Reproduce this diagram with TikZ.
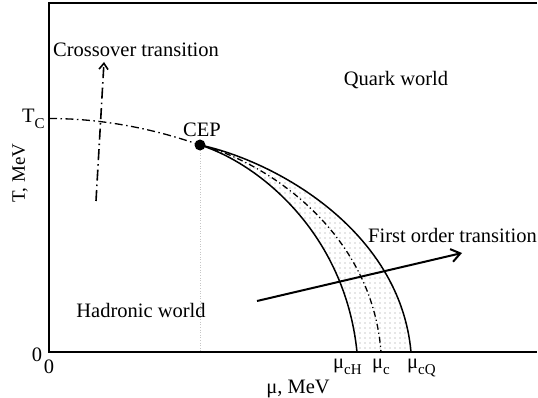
\documentclass[tikz,border=0pt]{standalone}
\usepackage{fontspec}
\setmainfont{Liberation Serif}
\usetikzlibrary{arrows.meta,patterns.meta}
\newcommand\sbs[1]{\raisebox{-6pt}{\fontsize{15}{15}\selectfont #1}}
\begin{document}
\begin{tikzpicture}[x=1pt,y=-1pt,
  font=\fontsize{20.5}{24}\selectfont,
  lbl/.style={inner sep=0pt},
  frame/.style={line width=1.5pt},
  bline/.style={line width=1.5pt},
  tcline/.style={line width=1.3pt, dash pattern=on 8pt off 3.5pt on 1.5pt off 3.5pt},
  midline/.style={line width=1.3pt, dash pattern=on 6pt off 3pt on 1.2pt off 3pt},
  crossline/.style={line width=1.6pt, dash pattern=on 11pt off 4pt on 1.5pt off 4pt, -{Straight Barb[length=6pt,width=9pt]}},
  foarrow/.style={line width=2pt, -{Straight Barb[length=9pt,width=13pt]}},
  faint/.style={gray!45, dotted, line width=0.6pt}]
\useasboundingbox (0,0) rectangle (538,398);
% coordinates
\coordinate (tl) at (49,3);
\coordinate (tr) at (537,3);
\coordinate (o) at (49,352);
\coordinate (br) at (537,352);
\coordinate (tc) at (49,118.5);
\coordinate (cep) at (200,145);
\coordinate (cepfoot) at (200,352);
\coordinate (hL) at (357,352);
\coordinate (cM) at (381,352);
\coordinate (qR) at (411,352);
\coordinate (cxA) at (96,201);
\coordinate (cxB) at (104,62);
\coordinate (foA) at (257,301);
\coordinate (foB) at (462,253);
% shaded band
\fill[pattern={Dots[distance=5pt,radius=0.55pt]}, pattern color=gray!85]
  (cep) .. controls (260,164) and (345,234) .. (hL) -- (qR)
  .. controls (400,230) and (275,161) .. (cep) -- cycle;
% faint dotted vertical
\draw[faint] (cep) -- (cepfoot);
% frame
\draw[frame] (tr) -- (tl) -- (o) -- (br);
% boundaries
\draw[bline] (cep) .. controls (260,164) and (345,234) .. (hL);
\draw[bline] (cep) .. controls (275,161) and (400,230) .. (qR);
\draw[midline] (cep) .. controls (267,162) and (372,232) .. (cM);
\draw[tcline] (tc) .. controls (99.3,118.5) and (149.7,127.4) .. (cep);
\fill (cep) circle[radius=5.5pt];
% arrows
\draw[crossline] (cxA) -- (cxB);
\draw[foarrow] (foA) -- (foB);
% labels
\node[lbl, anchor=base west] (lcross) at (53,57) {Crossover transition};
\node[lbl] (lquark) at (396,80) {Quark world};
\node[lbl] (lhadr) at (141,310) {Hadronic world};
\node[lbl, anchor=base west] (lfirst) at (368,242) {First order transition};
\node[lbl] (lcep) at (202,130) {CEP};
\node[lbl, anchor=base west] (ltc) at (22,123) {T\sbs{C}};
\node[lbl, rotate=90] (ly) at (20,173) {\fontsize{19}{22}\selectfont T, MeV};
\node[lbl] (lx) at (298,389) {μ, MeV};
\node[lbl] (l0a) at (37,355) {0};
\node[lbl] (l0b) at (49,367) {0};
\node[lbl, anchor=base west] (lmuH) at (333,368) {μ\sbs{cH}};
\node[lbl, anchor=base west] (lmuc) at (372,368) {μ\sbs{c}};
\node[lbl, anchor=base west] (lmuQ) at (407,368) {μ\sbs{cQ}};
\end{tikzpicture}
\end{document}
